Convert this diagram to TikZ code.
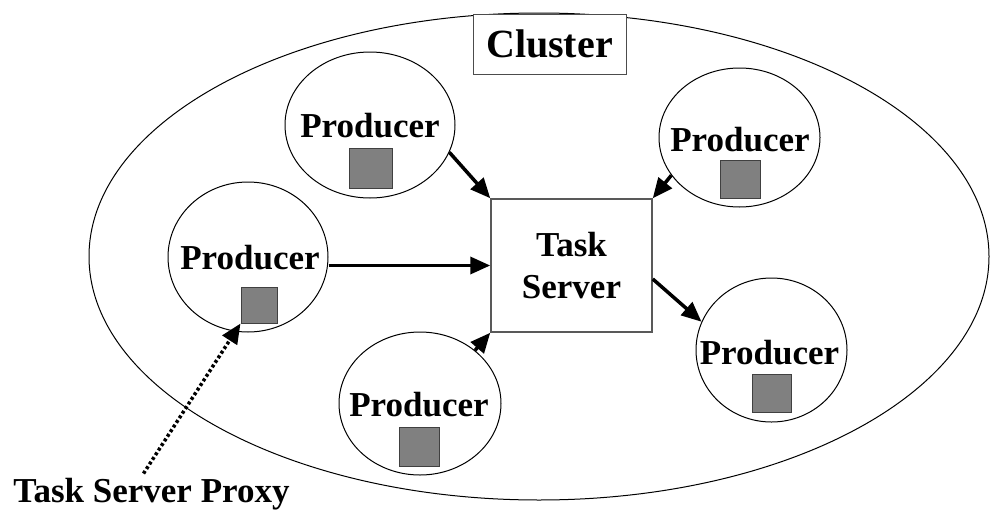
\documentclass[tikz,border=0pt]{standalone}
\usepackage{fontspec}
\setmainfont{Liberation Serif}
\usetikzlibrary{shapes.geometric,arrows.meta}
\tikzset{
  prodcircle/.style={draw=black, line width=1pt, ellipse, inner sep=0pt, fill=white},
  prodlabel/.style={font=\bfseries\fontsize{35}{42}\selectfont, inner sep=0pt},
  proxysq/.style={draw=black!75, line width=1pt, fill=black!50, inner sep=0pt},
  flow/.style={line width=3.5pt, -{Triangle[length=20pt,width=17pt]}},
  proxyflow/.style={line width=3.5pt, dash pattern=on 3pt off 2.5pt, -{Triangle[length=20pt,width=17pt]}},
}
\begin{document}
\begin{tikzpicture}[x=1pt,y=-1pt]
\useasboundingbox (0,0) rectangle (991,517);
% cluster ellipse
\node[draw=black, line width=1pt, ellipse, inner sep=0pt, minimum width=900pt, minimum height=487pt] (cluster) at (539,256.5) {};
\node[draw=black!70, line width=1pt, fill=white, minimum width=153pt, minimum height=60pt, inner sep=0pt,
      font=\bfseries\fontsize{40}{48}\selectfont] (clabel) at (549.5,44) {Cluster};
% task server
\node[draw=black!65, line width=1.5pt, minimum width=161pt, minimum height=133pt, inner sep=0pt,
      align=center, font=\bfseries\fontsize{35}{42}\selectfont] (ts) at (571.5,265.5) {Task\\Server};
% producers
\node[prodcircle, minimum width=170pt, minimum height=146pt] (p1) at (370,125) {};
\node[prodlabel] (l1) at (370,126) {Producer};
\node[proxysq, minimum width=43pt, minimum height=40pt] (s1) at (370.5,168) {};

\node[prodcircle, minimum width=161pt, minimum height=139pt] (p2) at (739.5,137.5) {};
\node[prodlabel] (l2) at (740,140) {Producer};
\node[proxysq, minimum width=40pt, minimum height=38pt] (s2) at (740,179) {};

\node[prodcircle, minimum width=160pt, minimum height=150pt] (p3) at (248,257) {};
\node[prodlabel] (l3) at (250,258) {Producer};
\node[proxysq, minimum width=36pt, minimum height=36pt] (s3) at (259,305) {};

\node[prodcircle, minimum width=162pt, minimum height=143pt] (p4) at (420,403.5) {};
\node[prodlabel] (l4) at (419,405) {Producer};
\node[proxysq, minimum width=40pt, minimum height=39pt] (s4) at (419,446.5) {};

\node[prodcircle, minimum width=151pt, minimum height=144pt] (p5) at (771.5,350) {};
\node[prodlabel] (l5) at (769.5,353) {Producer};
\node[proxysq, minimum width=39pt, minimum height=38pt] (s5) at (771.5,393) {};

% proxy label
\node[font=\bfseries\fontsize{35}{42}\selectfont, inner sep=0pt, anchor=base] (proxy) at (151.5,502) {Task Server Proxy};

% connectors
\draw[flow] (p1.-19) -- (ts.north west);
\draw[flow] (p2.209) -- (ts.north east);
\draw[flow] (ts.west -| p3.east) -- (ts.west);
\draw[flow] (p4.44) -- (ts.south west);
\coordinate (tsout) at (ts.east |- 0,279);
\draw[flow] (tsout) -- (p5.158);
\draw[proxyflow] ([xshift=-8pt,yshift=4pt]proxy.north) -- (s3.south west);
\end{tikzpicture}
\end{document}
